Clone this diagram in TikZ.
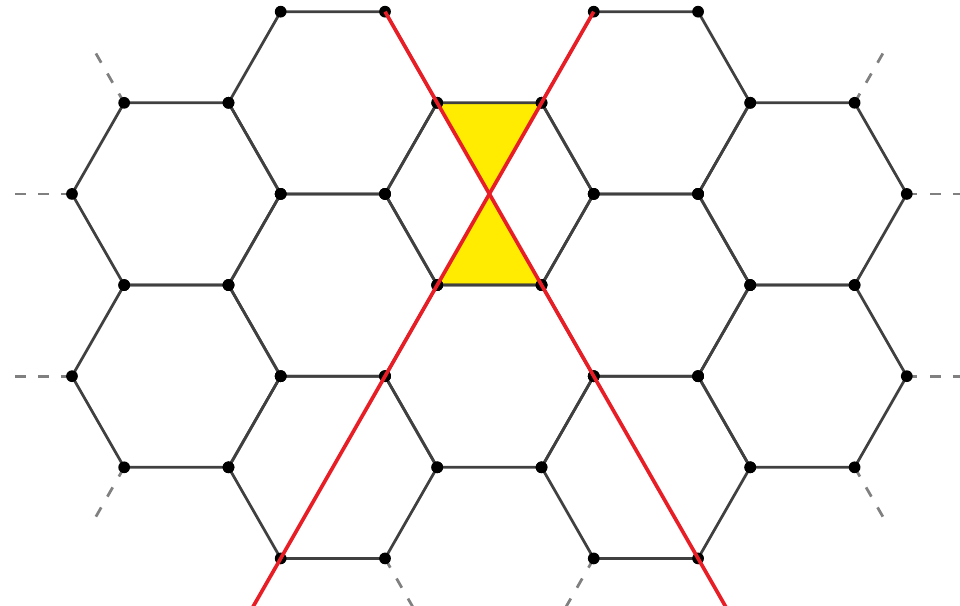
\documentclass[tikz,border=0pt]{standalone}
\definecolor{cutred}{RGB}{232,30,38}
\definecolor{cellyellow}{RGB}{255,236,0}
\begin{document}
\begin{tikzpicture}[x=1cm,y=0.8733cm,
  edge/.style={draw=black!75,line width=0.75pt},
  stub/.style={draw=black!50,line width=0.75pt,dash pattern=on 2.9pt off 3.4pt},
  cut/.style={draw=cutred,line width=1pt},
  site/.style={fill=black}]
\useasboundingbox (-4.69,-4.519) rectangle (4.51,2.128);
\clip (-4.69,-4.519) rectangle (4.51,2.128);
\foreach \n/\cx/\cy in {c0/0/0,ul/-1.5/1,ur/1.5/1,l/-3/0,r/3/0,ml/-1.5/-1,mr/1.5/-1,
                       ll/-3/-2,lr/3/-2,b/0/-2,bl/-1.5/-3,br/1.5/-3} {
  \coordinate (\n) at (\cx,\cy);
  \coordinate (\n-1) at (\cx+1,\cy);
  \coordinate (\n-2) at (\cx+0.5,\cy+1);
  \coordinate (\n-3) at (\cx-0.5,\cy+1);
  \coordinate (\n-4) at (\cx-1,\cy);
  \coordinate (\n-5) at (\cx-0.5,\cy-1);
  \coordinate (\n-6) at (\cx+0.5,\cy-1);
}
\fill[cellyellow] (c0-3) -- (c0-2) -- (c0) -- cycle;
\fill[cellyellow] (c0-5) -- (c0-6) -- (c0) -- cycle;
\foreach \n in {c0,ul,ur,l,r,ml,mr,ll,lr,b,bl,br}
  \draw[edge] (\n-1) -- (\n-2) -- (\n-3) -- (\n-4) -- (\n-5) -- (\n-6) -- cycle;
\foreach \v/\dx/\dy in {l-3/-0.275/0.55,l-4/-0.6/0,ll-4/-0.6/0,ll-5/-0.275/-0.55,
                       r-2/0.275/0.55,r-1/0.6/0,lr-1/0.6/0,lr-6/0.275/-0.55,
                       bl-6/0.275/-0.55,br-5/-0.275/-0.55} {
  \path (\v) ++(\dx,\dy) coordinate (\v-end);
  \draw[stub] (\v) -- (\v-end);
}
\foreach \n in {c0,ul,ur,l,r,ml,mr,ll,lr,b,bl,br}
  \foreach \k in {1,...,6}
    \fill[site] (\n-\k) circle (1.6pt);
\coordinate (cut1-end) at (2.4,-4.8);
\coordinate (cut2-end) at (-2.4,-4.8);
\draw[cut] (ul-2) -- (cut1-end);
\draw[cut] (ur-3) -- (cut2-end);
\end{tikzpicture}
\end{document}
